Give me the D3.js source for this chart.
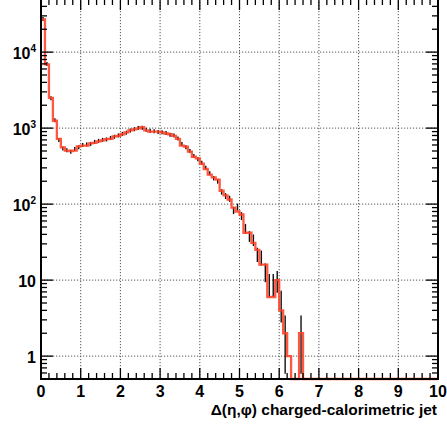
<!DOCTYPE html>
<html lang="en">
<head>
<meta charset="UTF-8">
<title>charged-calorimetric jet</title>
<script src="https://d3js.org/d3.v7.min.js"></script>
<style>
    body{ margin:0; background:#fff; }
    text{ font-family: "Liberation Sans", Arial, Helvetica, sans-serif; font-weight: bold; fill:#000; }
    .grid line{ stroke:#555; stroke-width:1; stroke-dasharray:1.2,1.8; }
    .frame{ stroke:#000; stroke-width:2; fill:none; }
    .tick{ stroke:#000; stroke-width:1.3; }
    path.mc{ stroke:#ff3a1e; stroke-width:2.3; fill:none; stroke-opacity:0.85; }
    .err{ stroke:#111; stroke-width:1.4; }
</style>
</head>
<body>
<svg width="447" height="425"></svg>
<script>
    // 100 bins of width 0.1 from 0 to 10
    let binLow = 0, binWidth = 0.1
    // red histogram (reference)
    let mcCounts = [27000, 6900, 2500, 1250, 720, 557, 505, 500, 505, 575,
        590, 590, 630, 640, 670, 690, 715, 720, 780, 790,
        830, 880, 935, 960, 990, 1030, 935, 900, 900, 900,
        880, 850, 830, 790, 720, 590, 570, 490, 420, 400,
        340, 290, 245, 225, 210, 150, 130, 115, 90, 80,
        73, 42, 42, 31, 25, 16, 16, 6, 6, 10,
        4, 2, 1, 0, 0, 2, 0, 0, 0, 0,
        0, 0, 0, 0, 0, 0, 0, 0, 0, 0,
        0, 0, 0, 0, 0, 0, 0, 0, 0, 0,
        0, 0, 0, 0, 0, 0, 0, 0, 0, 0]
    // black points (data)
    let dataCounts = [27200, 7000, 2480, 1270, 700, 540, 510, 490, 530, 560,
        600, 610, 620, 660, 680, 700, 710, 740, 770, 800,
        840, 870, 930, 970, 1000, 1010, 950, 920, 910, 890,
        880, 860, 820, 800, 730, 620, 560, 500, 430, 390,
        350, 300, 255, 220, 200, 145, 128, 118, 83, 92,
        70, 48, 38, 34, 22, 20, 13, 9, 9, 10,
        5, 2, 0, 0, 0, 2, 0, 0, 0, 0,
        0, 0, 0, 0, 0, 0, 0, 0, 0, 0,
        0, 0, 0, 0, 0, 0, 0, 0, 0, 0,
        0, 0, 0, 0, 0, 0, 0, 0, 0, 0]
    let xTicks = [0, 1, 2, 3, 4, 5, 6, 7, 8, 9, 10]
    let yTicks = [1, 10, 100, 1000, 10000]
    let yLabels = [["1", ""], ["10", ""], ["10", "2"], ["10", "3"], ["10", "4"]]
    let xTitle = "\u0394(\u03b7,\u03c6) charged-calorimetric jet"

    let svg = d3.select('svg')
    let margins = {left: 41, right: 438, top: -1, bottom: 379}
    let xscale = d3.scaleLinear().domain([0, 10]).range([margins.left, margins.right])
    let yscale = d3.scaleLog().domain([0.5, 5e4]).range([margins.bottom, margins.top])
    let yv = function (v){ return v > 0 ? yscale(v) : margins.bottom }

    // grid
    let grid = svg.append('g').attr('class', 'grid')
    grid.selectAll('line.gx').data(xTicks.slice(1, -1)).enter().append('line')
        .attr('class', 'gx')
        .attr('x1', d => xscale(d)).attr('x2', d => xscale(d))
        .attr('y1', margins.top).attr('y2', margins.bottom)
    grid.selectAll('line.gy').data(yTicks).enter().append('line')
        .attr('class', 'gy')
        .attr('x1', margins.left).attr('x2', margins.right)
        .attr('y1', d => yscale(d)).attr('y2', d => yscale(d))

    // black points with sqrt(N) error bars
    let dat = dataCounts.map((c, i) => ({x: binLow + (i + 0.5) * binWidth, n: c})).filter(d => d.n > 0)
    let eg = svg.append('g')
    eg.selectAll('line.err').data(dat).enter().append('line').attr('class', 'err')
        .attr('x1', d => xscale(d.x)).attr('x2', d => xscale(d.x))
        .attr('y1', d => Math.min(yscale(d.n + Math.sqrt(d.n)), yscale(d.n) - 2))
        .attr('y2', d => d.n - Math.sqrt(d.n) > 0 ? Math.max(yscale(d.n - Math.sqrt(d.n)), yscale(d.n) + 2) : margins.bottom)

    // red histogram as steps
    let pts = mcCounts.map((c, i) => [binLow + i * binWidth, c])
    pts.push([binLow + mcCounts.length * binWidth, mcCounts[mcCounts.length - 1]])
    let step = d3.line().curve(d3.curveStepAfter)
        .x(d => xscale(d[0])).y(d => yv(d[1]))
    svg.append('path').datum(pts).attr('class', 'mc').attr('d', step)

    // frame
    svg.append('rect').attr('class', 'frame')
        .attr('x', margins.left).attr('y', margins.top)
        .attr('width', margins.right - margins.left).attr('height', margins.bottom - margins.top)

    // x ticks (bottom and top)
    let xMinor = d3.range(1, 50).map(i => i * 0.2).filter(v => Math.abs(v - Math.round(v)) > 0.01)
    let tk = svg.append('g')
    function tickV(v, len){
        tk.append('line').attr('class', 'tick').attr('x1', xscale(v)).attr('x2', xscale(v))
            .attr('y1', margins.bottom).attr('y2', margins.bottom - len)
        tk.append('line').attr('class', 'tick').attr('x1', xscale(v)).attr('x2', xscale(v))
            .attr('y1', margins.top).attr('y2', margins.top + len)
    }
    xTicks.forEach(v => tickV(v, 11))
    xMinor.forEach(v => tickV(v, 6))

    // y ticks (left and right)
    let yMinor = []
    for (let e = -1; e < 5; e++) for (let m = 2; m < 10; m++) {
        let v = m * Math.pow(10, e)
        if (v >= 0.5 && v <= 5e4) yMinor.push(v)
    }
    function tickH(v, len){
        tk.append('line').attr('class', 'tick').attr('x1', margins.left).attr('x2', margins.left + len)
            .attr('y1', yscale(v)).attr('y2', yscale(v))
        tk.append('line').attr('class', 'tick').attr('x1', margins.right).attr('x2', margins.right - len)
            .attr('y1', yscale(v)).attr('y2', yscale(v))
    }
    yTicks.forEach(v => tickH(v, 12))
    yMinor.forEach(v => tickH(v, 6))

    // labels
    svg.selectAll('text.xl').data(xTicks).enter().append('text').attr('class', 'xl')
        .attr('x', d => xscale(d)).attr('y', 397)
        .attr('text-anchor', 'middle').attr('font-size', 16).text(d => d)
    yTicks.forEach(function (v, i){
        let t = svg.append('text').attr('x', 36).attr('y', yscale(v) + 7)
            .attr('text-anchor', 'end').attr('font-size', 16)
        t.append('tspan').text(yLabels[i][0])
        if (yLabels[i][1]) t.append('tspan').attr('dy', -7).attr('font-size', 10).text(yLabels[i][1])
    })
    svg.append('text').attr('x', 437).attr('y', 415).attr('text-anchor', 'end')
        .attr('font-size', 15.5).text(xTitle)
</script>
</body>
</html>
